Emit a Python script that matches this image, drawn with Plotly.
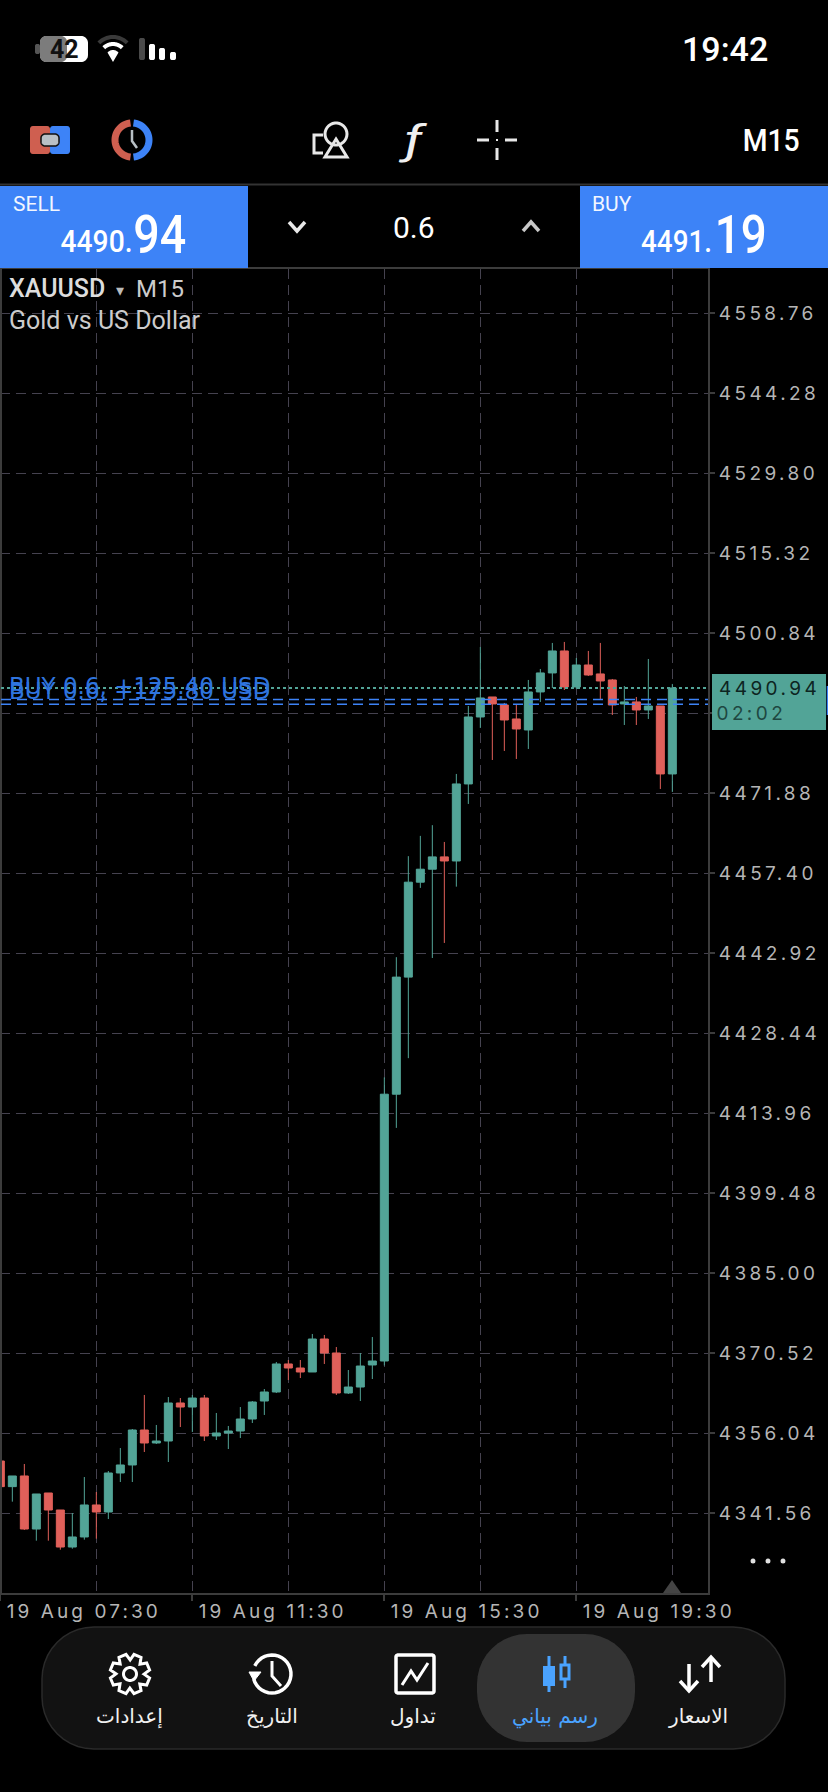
import math
import plotly.graph_objects as go

# candles, M15, from the screenshot
candle_times = [
    '2025-08-19 07:30', '2025-08-19 07:45', '2025-08-19 08:00', '2025-08-19 08:15', '2025-08-19 08:30',
    '2025-08-19 08:45', '2025-08-19 09:00', '2025-08-19 09:15', '2025-08-19 09:30', '2025-08-19 09:45',
    '2025-08-19 10:00', '2025-08-19 10:15', '2025-08-19 10:30', '2025-08-19 10:45', '2025-08-19 11:00',
    '2025-08-19 11:15', '2025-08-19 11:30', '2025-08-19 11:45', '2025-08-19 12:00', '2025-08-19 12:15',
    '2025-08-19 12:30', '2025-08-19 12:45', '2025-08-19 13:00', '2025-08-19 13:15', '2025-08-19 13:30',
    '2025-08-19 13:45', '2025-08-19 14:00', '2025-08-19 14:15', '2025-08-19 14:30', '2025-08-19 14:45',
    '2025-08-19 15:00', '2025-08-19 15:15', '2025-08-19 15:30', '2025-08-19 15:45', '2025-08-19 16:00',
    '2025-08-19 16:15', '2025-08-19 16:30', '2025-08-19 16:45', '2025-08-19 17:00', '2025-08-19 17:15',
    '2025-08-19 17:30', '2025-08-19 17:45', '2025-08-19 18:00', '2025-08-19 18:15', '2025-08-19 18:30',
    '2025-08-19 18:45', '2025-08-19 19:00', '2025-08-19 19:15', '2025-08-19 19:30', '2025-08-19 19:45',
    '2025-08-19 20:00', '2025-08-19 20:15', '2025-08-19 20:30', '2025-08-19 20:45', '2025-08-19 21:00',
    '2025-08-19 21:15', '2025-08-19 21:30',
]
opens = [
    4351.03, 4346.39, 4348.32, 4338.72, 4345.24, 4342.16, 4335.46, 4337.28, 4343.07, 4341.80,
    4348.86, 4350.31, 4356.64, 4354.29, 4354.65, 4361.53, 4360.80, 4362.43, 4355.56, 4356.10,
    4356.46, 4358.63, 4361.89, 4363.52, 4368.59, 4367.86, 4367.14, 4373.11, 4370.58, 4363.34,
    4364.42, 4368.41, 4369.13, 4417.42, 4438.61, 4455.79, 4458.14, 4460.37, 4459.63, 4473.57,
    4485.69, 4489.31, 4487.86, 4485.33, 4483.34, 4490.22, 4493.66, 4497.64, 4491.12, 4495.10,
    4493.48, 4492.39, 4488.05, 4488.41, 4486.96, 4487.68, 4475.38,
]
highs = [
    4351.03, 4348.32, 4350.49, 4345.06, 4345.24, 4342.16, 4341.62, 4348.13, 4345.42, 4349.22,
    4353.38, 4356.82, 4362.98, 4357.55, 4362.61, 4362.43, 4362.98, 4362.98, 4359.72, 4357.37,
    4360.80, 4361.89, 4364.06, 4368.95, 4369.31, 4369.31, 4374.02, 4373.84, 4371.66, 4367.50,
    4370.58, 4373.47, 4420.46, 4442.22, 4460.50, 4464.17, 4466.11, 4463.07, 4475.38, 4487.68,
    4498.36, 4489.31, 4488.23, 4487.86, 4492.39, 4494.38, 4499.09, 4499.27, 4496.37, 4497.64,
    4499.09, 4492.57, 4491.30, 4489.31, 4496.19, 4487.68, 4491.67,
]
lows = [
    4346.39, 4343.67, 4338.54, 4336.61, 4336.61, 4334.98, 4335.16, 4336.79, 4336.97, 4340.53,
    4347.23, 4347.23, 4352.66, 4354.11, 4350.85, 4357.18, 4356.28, 4354.65, 4354.83, 4353.20,
    4355.19, 4357.91, 4359.36, 4363.34, 4365.69, 4366.05, 4367.14, 4368.59, 4362.98, 4363.16,
    4361.89, 4365.87, 4368.31, 4411.32, 4423.94, 4454.76, 4442.07, 4444.79, 4454.98, 4469.95,
    4483.70, 4477.91, 4479.54, 4478.09, 4479.90, 4488.41, 4490.94, 4490.58, 4490.76, 4493.11,
    4488.95, 4486.05, 4484.24, 4484.24, 4485.33, 4472.66, 4472.12,
]
closes = [
    4346.39, 4348.32, 4338.72, 4345.06, 4342.16, 4335.46, 4337.28, 4343.07, 4341.80, 4348.86,
    4350.31, 4356.64, 4354.29, 4354.65, 4361.53, 4360.80, 4362.43, 4355.56, 4356.10, 4356.46,
    4358.63, 4361.71, 4363.52, 4368.59, 4367.86, 4367.14, 4373.11, 4370.58, 4363.34, 4364.42,
    4368.22, 4369.13, 4417.42, 4438.61, 4455.79, 4458.14, 4460.37, 4459.63, 4473.57, 4485.69,
    4489.13, 4488.05, 4485.15, 4483.52, 4490.22, 4493.66, 4497.64, 4491.12, 4495.10, 4493.29,
    4492.21, 4487.86, 4488.41, 4486.96, 4487.68, 4475.38, 4490.94,
]

price_ticks = [4558.76, 4544.28, 4529.80, 4515.32, 4500.84, 4486.36, 4471.88, 4457.40,
               4442.92, 4428.44, 4413.96, 4399.48, 4385.00, 4370.52, 4356.04, 4341.56]
# 4486.36 sits under the live price tag in the app, so no text for it
price_tick_texts = ['4558.76', '4544.28', '4529.80', '4515.32', '4500.84', '', '4471.88', '4457.40',
                    '4442.92', '4428.44', '4413.96', '4399.48', '4385.00', '4370.52', '4356.04', '4341.56']
label_times = ['2025-08-19 07:30', '2025-08-19 11:30', '2025-08-19 15:30', '2025-08-19 19:30']
label_texts = ['19 Aug 07:30', '19 Aug 11:30', '19 Aug 15:30', '19 Aug 19:30']
grid_times = ['2025-08-19 09:30', '2025-08-19 13:30', '2025-08-19 17:30', '2025-08-19 21:30']
bid_price = 4490.94
position_prices = [4488.85, 4488.01]
position_texts = ['BUY 0.6, +125.40 USD', 'BUY 0.6, +175.80 USD']
nav_labels = ['إعدادات', 'التاريخ', 'تداول', 'رسم بياني', 'الاسعار']

W, H = 828, 1792
GREEN = '#52a497'
RED = '#e0605a'
BLUE = '#3d83f7'
GRID = '#45424f'
FRAME = '#3c3c3c'
ICON_BLUE = '#4aa3ff'


def px(x):
    return x / W


def py(y):
    return 1 - y / H


shapes = []
notes = []


def path_of(points, closed=True):
    d = 'M' + ' L'.join(f'{px(x):.5f} {py(y):.5f}' for x, y in points)
    return d + (' Z' if closed else '')


def poly(points, fill=None, color=None, width=0, closed=True):
    shapes.append(dict(type='path', xref='paper', yref='paper', path=path_of(points, closed),
                       fillcolor=fill if fill else 'rgba(0,0,0,0)',
                       line=dict(color=color if color else 'rgba(0,0,0,0)', width=width), layer='above'))


def arc(cx, cy, r, a0, a1, n=30):
    return [(cx + r * math.cos(math.radians(a0 + (a1 - a0) * i / n)),
             cy + r * math.sin(math.radians(a0 + (a1 - a0) * i / n))) for i in range(n + 1)]


def rect(x0, y0, x1, y1, fill=None, color=None, width=0, r=0):
    if r == 0:
        poly([(x0, y0), (x1, y0), (x1, y1), (x0, y1)], fill, color, width)
    else:
        pts = (arc(x1 - r, y0 + r, r, -90, 0, 10) + arc(x1 - r, y1 - r, r, 0, 90, 10)
               + arc(x0 + r, y1 - r, r, 90, 180, 10) + arc(x0 + r, y0 + r, r, 180, 270, 10))
        poly(pts, fill, color, width)


def seg(x0, y0, x1, y1, color, width):
    poly([(x0, y0), (x1, y1)], None, color, width, closed=False)


def label(x, y, text, size, color='#ffffff', anchor='left', family='Roboto', weight=400):
    notes.append(dict(x=px(x), y=py(y), xref='paper', yref='paper', text=text, showarrow=False,
                      xanchor=anchor, yanchor='middle', borderpad=0,
                      font=dict(size=size, color=color, family=family, weight=weight)))


fig = go.Figure(go.Candlestick(
    x=candle_times, open=opens, high=highs, low=lows, close=closes,
    increasing=dict(line=dict(color=GREEN, width=1), fillcolor=GREEN),
    decreasing=dict(line=dict(color=RED, width=1), fillcolor=RED),
    whiskerwidth=0, hoverinfo='skip',
))

# left frame edge, the axis line falls just off the page there
seg(1, 269, 1, 1593, FRAME, 2)

# price lines
shapes.append(dict(type='line', xref='paper', yref='y', x0=px(1), x1=px(708), y0=bid_price, y1=bid_price,
                   line=dict(color=GREEN, width=2, dash='3px,3px'), layer='above'))
for p in position_prices:
    shapes.append(dict(type='line', xref='paper', yref='y', x0=px(1), x1=px(708), y0=p, y1=p,
                       line=dict(color=BLUE, width=1.5, dash='10px,6px'), layer='above'))
label(7.5, 686, position_texts[0], 23, '#2f74de', family='DejaVu Sans')
label(7.5, 690.5, position_texts[1], 23, '#2f74de', family='DejaVu Sans')

# price tag
rect(712, 674, 826, 730, GREEN)
seg(827.5, 686, 827.5, 715, BLUE, 1.5)
label(769, 688, '4490.94', 19, '#0d2421', 'center', 'Inter')
label(751, 713, '02:02', 19, '#1e4741', 'center', 'Inter')

# status bar
rect(35, 44, 40, 54, '#555555', r=2)
rect(40, 36, 88, 62, '#ffffff', r=7)
rect(40, 36, 67, 62, '#7c7c7c', r=6)
label(64, 49, '42', 25, '#111111', 'center', 'Roboto', 700)
poly(arc(113, 57, 20, -135, -45), None, '#3a3a3a', 4, closed=False)
poly(arc(113, 57, 13, -135, -45), None, '#ffffff', 4, closed=False)
poly(arc(113, 57, 6, -135, -45) + [(113, 60)], '#ffffff', '#ffffff', 2)
rect(139, 38, 145, 60, '#4a4a4a', r=2)
rect(149, 44, 155, 60, '#ffffff', r=2)
rect(159, 48, 165, 60, '#ffffff', r=2)
rect(170, 52, 176, 60, '#ffffff', r=2)
label(725, 49, '19:42', 34, '#ffffff', 'center', 'Roboto', 500)

# toolbar
rect(30, 126, 50, 154, '#cf5f50', r=3)
rect(50, 126, 70, 154, BLUE, r=3)
rect(41, 134, 59, 146, '#b9c0c6', '#111111', 1.5, r=4)
poly(arc(132, 140, 17, 95, 265), None, '#cf5f50', 7, closed=False)
poly(arc(132, 140, 17, -85, 85), None, BLUE, 7, closed=False)
poly([(132, 130), (132, 141), (137, 148)], None, '#b9c0c6', 2.5, closed=False)
poly(arc(336, 134, 11, 0, 360), None, '#e8e8e8', 3)
poly([(336, 139), (347, 157), (325, 157)], None, '#e8e8e8', 3)
poly([(323, 135), (314, 135), (314, 153), (323, 153)], None, '#e8e8e8', 3, closed=False)
label(413, 140, '<i>ƒ</i>', 40, '#f0f0f0', 'center', 'Roboto', 400)
seg(497, 120, 497, 132, '#e8e8e8', 3)
seg(497, 148, 497, 160, '#e8e8e8', 3)
seg(477, 140, 489, 140, '#e8e8e8', 3)
seg(505, 140, 517, 140, '#e8e8e8', 3)
seg(497, 139, 497, 141, '#e8e8e8', 2)
label(771, 140, 'M15', 32, '#ffffff', 'center', 'Roboto', 500)

# order panel
seg(0, 184.5, 828, 184.5, '#333333', 2)
rect(0, 186, 248, 268, BLUE)
rect(580, 186, 828, 268, BLUE)
label(12, 204, 'SELL', 21, '#f2f6ff')
label(591, 204, 'BUY', 21, '#f2f6ff')
label(96, 242, '4490.', 31, '#ffffff', 'center', 'Roboto', 500)
label(159.5, 235, '94', 54, '#ffffff', 'center', 'Roboto', 500)
label(676, 242, '4491.', 31, '#ffffff', 'center', 'Roboto', 500)
label(740, 235, '19', 54, '#ffffff', 'center', 'Roboto', 500)
poly([(289, 222), (297, 231), (305, 222)], None, '#e8e8e8', 3.5, closed=False)
poly([(523, 231), (531, 222), (539, 231)], None, '#c8c8c8', 3.5, closed=False)
label(414, 227, '0.6', 30, '#ffffff', 'center')

# symbol header
label(8, 289, 'XAUUSD', 25, '#dddddd', weight=500)
label(115, 290, '▾', 16, '#bbbbbb', family='DejaVu Sans')
label(135, 289, 'M15', 24, '#cccccc')
label(8, 320, 'Gold vs US Dollar', 25, '#cccccc')

# chart corner marks
poly([(672, 1580), (681, 1593), (663, 1593)], '#444444')
for x in (753, 768, 783):
    poly(arc(x, 1561, 2.5, 0, 360, 12), '#e0e0e0')

# bottom navigation
rect(42, 1627, 785, 1749, '#121212', '#2a2a2a', 1.5, r=52)
rect(477, 1634, 635, 1742, '#333333', r=50)
teeth = []
for i in range(8):
    a = 22.5 + 45 * i
    teeth += [(130 + 14 * math.cos(math.radians(a - 22)), 1674 + 14 * math.sin(math.radians(a - 22))),
              (130 + 20 * math.cos(math.radians(a - 11)), 1674 + 20 * math.sin(math.radians(a - 11))),
              (130 + 20 * math.cos(math.radians(a + 11)), 1674 + 20 * math.sin(math.radians(a + 11)))]
poly(teeth, None, '#ffffff', 3)
poly(arc(130, 1674, 6.5, 0, 360), None, '#ffffff', 3)
poly(arc(272, 1674, 19, -155, 165), None, '#ffffff', 3.5, closed=False)
poly([(249, 1672), (261, 1672), (254, 1681)], '#ffffff', '#ffffff', 1)
poly([(272, 1661), (272, 1676), (281, 1686)], None, '#ffffff', 3, closed=False)
rect(396, 1655, 434, 1693, None, '#ffffff', 3.5, r=2)
poly([(402, 1685), (411, 1671), (417, 1680), (428, 1663)], None, '#ffffff', 3, closed=False)
seg(549, 1656, 549, 1692, ICON_BLUE, 3)
rect(543, 1666, 555, 1686, ICON_BLUE)
seg(565, 1656, 565, 1688, ICON_BLUE, 3)
rect(561, 1665, 569, 1679, '#333333', ICON_BLUE, 3)
seg(689, 1664, 689, 1690, '#ffffff', 3.5)
poly([(680, 1681), (689, 1691), (698, 1681)], None, '#ffffff', 3.5, closed=False)
seg(711, 1658, 711, 1682, '#ffffff', 3.5)
poly([(702, 1667), (711, 1657), (720, 1667)], None, '#ffffff', 3.5, closed=False)
nav_x = [129, 272, 413, 555, 698]
for x, text in zip(nav_x, nav_labels):
    label(x, 1716, text, 20, ICON_BLUE if text == 'رسم بياني' else '#f0f0f0', 'center', 'DejaVu Sans')

fig.update_layout(
    width=W, height=H, autosize=False,
    margin=dict(l=0, r=0, t=0, b=0, pad=0, autoexpand=False),
    paper_bgcolor='#000000', plot_bgcolor='#000000',
    showlegend=False, boxgap=0.333, boxgroupgap=0,
    shapes=shapes, annotations=notes,
    xaxis=dict(domain=[px(0.33), px(708)], type='date',
               range=['2025-08-19 07:30:00', '2025-08-19 22:14:35'],
               rangeslider=dict(visible=False),
               tickmode='array', tickvals=label_times, ticktext=label_texts,
               ticklabelposition='outside right',
               ticks='outside', ticklen=6, tickwidth=2, tickcolor=FRAME,
               tickfont=dict(family='Inter', size=19, color='#b5b5b5'),
               showgrid=True, griddash='10px,6px', gridcolor=GRID, gridwidth=1,
               minor=dict(tickmode='array', tickvals=grid_times, showgrid=True, griddash='10px,6px',
                          gridcolor=GRID, gridwidth=1, ticks=''),
               showline=True, linecolor=FRAME, linewidth=2, mirror=True, zeroline=False),
    yaxis=dict(domain=[py(1593), py(269)], side='right',
               range=[4327.14, 4566.77],
               tickmode='array', tickvals=price_ticks, ticktext=price_tick_texts,
               ticks='outside', ticklen=5, tickwidth=2, tickcolor=FRAME,
               tickfont=dict(family='Inter', size=19, color='#b5b5b5'),
               showgrid=True, griddash='10px,6px', gridcolor=GRID, gridwidth=1,
               showline=True, linecolor=FRAME, linewidth=2, mirror=True, zeroline=False),
)

# the app's digits are narrower and more widely spaced than the fonts here
spacing = """
document.body.style.margin = '0';
document.body.style.background = '#000';
document.documentElement.style.overflow = 'hidden';
var st = document.createElement('style');
st.textContent = '.xtick text {letter-spacing: 3.1px;} .ytick text {letter-spacing: 3.4px;}';
document.head.appendChild(st);
document.querySelectorAll('.xtick text').forEach(function (t) { t.setAttribute('dx', '4.3'); });
var fit = {'94': 53, '19': 52, '4490.': 72, '4491.': 71, 'M15': 57, 'ƒ': 19};
document.querySelectorAll('.annotation-text').forEach(function (t) {
    var s = t.textContent;
    if (s === '4490.94' || s === '02:02') { t.style.letterSpacing = '3.4px'; }
    if (fit[s] && !(s === 'M15' && t.style.fontSize === '24px')) {
        t.setAttribute('textLength', fit[s]);
        t.setAttribute('lengthAdjust', 'spacingAndGlyphs');
    }
});
"""
fig.write_html("out.html", config=dict(displayModeBar=False), post_script=spacing)
